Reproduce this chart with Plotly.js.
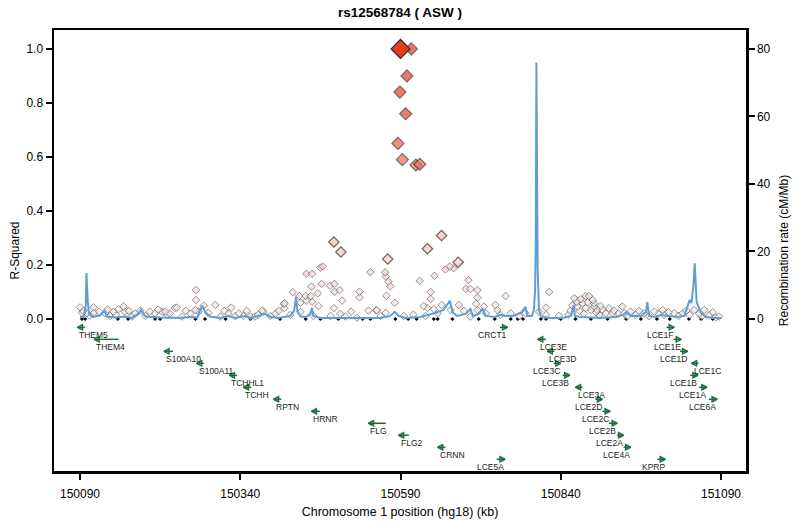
<!DOCTYPE html>
<html><head><meta charset="utf-8">
<script src="https://cdn.plot.ly/plotly-3.0.1.min.js"></script>
<style>html,body{margin:0;padding:0;background:#fff}#chart{width:800px;height:525px}</style>
</head><body><div id="chart"></div>
<script>
// ---- SNP data (position kb, r-squared with rs12568784) ----
const snpPos = [150607,150600,150589,150598,150586,150593,150614,150620,
150486,150497,150570,150654,150632,150680,150673,150667,150660,150620,150643,150696,150692,150699,150710,150710,150637,150637,150626,150632,150654,150754,150822,
150543,150566,150567,150571,150574,150568,150581,150526,150526,150513,150540,150552,150465,150469,150443,150452,150467,150451,150480,150487,150487,150495,150499,
150422,150432,150442,150450,150443,150452,150434,150461,150462,150409,150409,150374,150486,150522,
150090,150093,150111,150112,150120,150129,150142,150150,150158,150160,150171,150184,150199,150207,150218,150223,150238,150249,150271,150271,150283,150301,150270,150275,150290,150241,150326,150345,150356,150376,150408,150387,150321,150309,150101,150137,150192,150226,150332,150363,
150095,150105,150133,150146,150166,150176,150212,150230,150255,150262,150315,150338,150350,150368,150395,150400,
150418,150434,150454,150481,150496,150504,150559,150553,150567,150595,150610,
150629,150642,150648,150681,150668,150689,150699,150708,150710,150720,150723,150738,150741,150746,150762,150775,150785,150806,150817,150817,
150861,150865,150871,150879,150884,150874,150882,150892,150892,150866,150879,150887,150897,150902,150910,150921,150923,150936,150939,150949,150957,150970,150986,150999,151001,151017,151030,151041,151048,151064,151072,151082,151087,150852,150837,
150855,150858,150869,150876,150890,150895,150900,150905,150915,150930,150944,150962,150978,150992,151008,151024,151036,151056,151060,151077];
const snpR2 = [1.0,0.90,0.84,0.76,0.65,0.59,0.57,0.573,
0.285,0.248,0.222,0.309,0.26,0.21,0.188,0.194,0.183,0.141,0.160,0.144,0.111,0.111,0.107,0.079,0.10,0.074,0.048,0.041,0.052,0.085,0.10,
0.173,0.173,0.157,0.138,0.121,0.086,0.060,0.101,0.080,0.027,0.031,0.032,0.19,0.194,0.167,0.167,0.13,0.12,0.123,0.13,0.101,0.107,0.068,
0.099,0.085,0.085,0.085,0.068,0.064,0.06,0.095,0.048,0.058,0.04,0.031,0.04,0.005,
0.043,0.023,0.043,0.023,0.027,0.021,0.027,0.036,0.046,0.027,0.009,0.031,0.027,0.021,0.027,0.027,0.040,0.009,0.107,0.070,0.049,0.052,0.033,0.027,0.023,0.042,0.042,0.011,0.009,0.027,0.056,0.011,0.021,0.009,0.022,0.011,0.011,0.015,0.011,0.009,
0.03,0.012,0.035,0.015,0.03,0.02,0.035,0.02,0.03,0.02,0.03,0.02,0.03,0.015,0.02,0.03,
0.015,0.026,0.011,0.011,0.019,0.009,0.011,0.033,0.022,0.011,0.016,
0.011,0.036,0.021,0.052,0.033,0.030,0.009,0.056,0.033,0.046,0.021,0.052,0.033,0.015,0.021,0.011,0.021,0.027,0.042,0.015,
0.077,0.064,0.073,0.085,0.085,0.058,0.062,0.058,0.046,0.046,0.040,0.033,0.033,0.048,0.021,0.021,0.031,0.046,0.021,0.027,0.015,0.021,0.027,0.033,0.015,0.021,0.021,0.015,0.033,0.033,0.015,0.006,0.009,0.015,0.011,
0.03,0.05,0.03,0.02,0.07,0.025,0.015,0.035,0.04,0.02,0.01,0.03,0.01,0.02,0.025,0.012,0.03,0.02,0.01,0.025];
const queryPos = [150590];
const queryR2 = [1.0];
// SNPs without LD information (drawn black at r2 = 0)
const zeroPos = [150093,150098,150149,150165,150207,150215,150270,150285,150317,150356,150402,150442,150465,150493,150531,150543,150582,150602,150615,150642,150648,150671,150712,150737,150762,150773,150781,150809,150817,150840,150863,150887,150913,150942,150965,150990,151010,151040,151059,151077];
const zeroR2 = zeroPos.map(() => 0);

// ---- Recombination rate (cM/Mb) ----
const recPos = [150090,150096,150099,150100,150102,150104,150109,150121,150128,150132,150145,150160,150171,150181,150185,150192,150215,150246,150262,150273,150277,150281,150285,150293,150309,150321,150332,150348,150356,150368,150379,150387,150399,150418,150424,150427,150429,150434,150443,150449,150452,150454,150465,150496,150527,150559,150574,150581,150587,150598,150621,150645,150657,150667,150671,150678,150692,150699,150703,150712,150718,150723,150738,150746,150754,150765,150778,150785,150788,150795,150798,150800,150801,150802,150803,150804,150806,150809,150824,150843,150856,150860,150862,150871,150902,150926,150937,150943,150949,150965,150973,150975,150978,150988,150996,151012,151021,151033,151038,151041,151044,151047,151049,151051,151052,151055,151059,151066,151077,151090];
const recRate = [0.6,0.6,4.1,13.6,5.6,1.5,0.6,1.0,2.4,0.7,0.4,0.7,0.3,1.5,2.7,0.7,0.4,0.3,0.6,0.4,2.4,3.9,2.1,0.7,0.3,0.9,0.3,0.9,0.3,0.9,1.5,0.6,0.3,0.9,2.4,6.5,2.4,0.7,0.6,1.5,3.3,0.9,0.3,0.3,0.3,0.3,0.9,2.1,0.9,0.3,0.6,1.8,2.7,5.4,2.1,0.9,1.5,3.0,0.9,1.5,3.0,0.9,0.6,1.2,0.9,0.9,1.8,3.6,0.9,0.9,2.7,8.6,23,76,45,14.5,2.7,0.6,0.3,0.3,0.9,4.1,0.9,0.6,0.3,0.6,1.2,2.1,0.9,0.9,2.1,5.0,0.9,0.6,1.2,0.9,0.6,0.9,3.9,5.6,4.7,10,16.5,8.6,5.0,3.6,1.8,0.6,0.3,0.3];

// ---- Genes ----
const geneNames = ['THEM5','THEM4','S100A10','S100A11','TCHHL1','TCHH','RPTN','HRNR','FLG','FLG2','CRNN','LCE5A',
'CRCT1','LCE3E','LCE3D','LCE3C','LCE3B','LCE3A','LCE2D','LCE2C','LCE2B','LCE2A','LCE4A','KPRP',
'LCE1F','LCE1E','LCE1D','LCE1C','LCE1B','LCE1A','LCE6A'];
const geneStart = [150086,150112,150221,150272,150323,150345,150392,150451,150540,150587,150648,150740,
150745,150804,150819,150829,150843,150863,150894,150905,150915,150928,150938,150991,
151005,151016,151026,151044,151042,151056,151071];
const geneEnd = [150098,150150,150235,150283,150335,150357,150404,150464,150567,150603,150660,150753,
150757,150817,150830,150840,150854,150874,150905,150917,150928,150938,150949,151003,
151017,151028,151038,151055,151054,151068,151084];
const geneStrand = [-1,-1,-1,-1,-1,-1,-1,-1,-1,-1,-1,1,
1,-1,-1,1,1,-1,1,1,1,1,1,1,
1,1,1,-1,1,1,1];
const geneRow = [0,1,2,3,4,5,6,7,8,9,10,11,
0,1,2,3,4,5,6,7,8,9,10,11,
0,1,2,3,4,5,6];

// ---- styling helpers ----
const rowY = r => -0.031 - 0.0444 * r;
const sizeFor = r => r >= 0.5 ? 9.2 : (r >= 0.2 ? 8 : 5.8);
const order = snpR2.map((v,i)=>i).sort((a,b)=>snpR2[a]-snpR2[b]);
const sx = order.map(i=>snpPos[i]), sy = order.map(i=>snpR2[i]);

const colorscale = [[0,'#f4ecec'],[0.12,'#f2dcdc'],[0.3,'#f7bcb6'],[0.6,'#ef6c57'],[0.75,'#e8482a'],[1,'#e63d1d']];
const green = '#1d6e3c';

const traces = [];
traces.push({type:'scatter', mode:'markers', x: zeroPos, y: zeroR2, xaxis:'x', yaxis:'y',
  marker:{symbol:'diamond', size:3.2, color:'#000', line:{width:0}}, hoverinfo:'skip'});
traces.push({type:'scatter', mode:'markers', x: sx, y: sy, xaxis:'x', yaxis:'y',
  marker:{symbol:'diamond', size: sy.map(sizeFor), color: sy, cmin:0, cmax:1, colorscale: colorscale,
    line:{color: sy.map(v => v >= 0.2 ? '#3a2424' : '#4a4040'), width: sy.map(v => v >= 0.2 ? 1.2 : 0.8)}}, hoverinfo:'x+y'});
traces.push({type:'scatter', mode:'markers', x: queryPos, y: queryR2,
  marker:{symbol:'diamond', size:14.5, color:'#e63d1d', line:{color:'#3a2424', width:1.2}}});

// gene bodies
const gx = [], gy = [];
geneNames.forEach((g,i)=>{ gx.push(geneStart[i], geneEnd[i], null); gy.push(rowY(geneRow[i]), rowY(geneRow[i]), null); });
traces.push({type:'scatter', mode:'lines', x: gx, y: gy, line:{color:green, width:1.5}, hoverinfo:'skip'});
// arrow heads
traces.push({type:'scatter', mode:'markers',
  x: geneNames.map((g,i)=> geneStrand[i] < 0 ? geneStart[i] : geneEnd[i]),
  y: geneRow.map(rowY),
  marker:{symbol: geneStrand.map(s => s < 0 ? 'arrow-left-open' : 'arrow-right-open'), size:5, color:green, line:{width:1.5, color:green}},
  hoverinfo:'skip'});
// recombination rate on right axis
traces.push({type:'scatter', mode:'lines', x: recPos, y: recRate, xaxis:'x', yaxis:'y2',
  line:{color:'#5d9fd5', width:2}, hoverinfo:'x+y'});

// gene labels (anchored under the arrow tail/head)
const geneLabels = geneNames.map((g,i)=>({
  x: geneStrand[i] < 0 ? geneStart[i] : geneEnd[i] + 2,
  y: rowY(geneRow[i]), xref:'x', yref:'y',
  text: g, showarrow:false, xanchor: geneStrand[i] < 0 ? 'left' : 'right', yanchor:'top', yshift:-0.5,
  font:{family:'Liberation Sans, Arial, sans-serif', size:8.5, color:'#222'}
}));

const axisCommon = {showline:true, linecolor:'#000', linewidth:2.5, ticks:'outside', ticklen:6, tickwidth:2, tickcolor:'#000',
  showgrid:false, zeroline:false, tickfont:{size:12, color:'#000'}};

const layout = {
  width:800, height:525,
  margin:{l:54, r:54, t:30, b:54},
  paper_bgcolor:'#fff', plot_bgcolor:'#fff', showlegend:false,
  font:{family:'Liberation Sans, Arial, Helvetica, sans-serif', size:12, color:'#000'},
  title:{text:'<b>rs12568784 ( ASW )</b>', x:0.5, xanchor:'center', y:0.977, yanchor:'middle', font:{size:13.5, color:'#000'}},
  annotations: geneLabels,
  xaxis: Object.assign({}, axisCommon, {range:[150049.4, 151129], tickvals:[150090,150340,150590,150840,151090],
    ticktext:['150090','150340','150590','150840','151090'], mirror:true, ticklabelstandoff:4,
    title:{text:'Chromosome 1 position (hg18) (kb)', font:{size:12.5}, standoff:8}}),
  yaxis: Object.assign({}, axisCommon, {range:[-0.563, 1.07], tickvals:[0,0.2,0.4,0.6,0.8,1.0], tickformat:'.1f',
    title:{text:'R-Squared', font:{size:12}}}),
  yaxis2: Object.assign({}, axisCommon, {overlaying:'y', side:'right', range:[-45.04, 85.6], tickvals:[0,20,40,60,80],
    title:{text:'Recombination rate (cM/Mb)', font:{size:12}}})
};
Plotly.newPlot('chart', traces, layout, {displayModeBar:false, staticPlot:true});
</script></body></html>
